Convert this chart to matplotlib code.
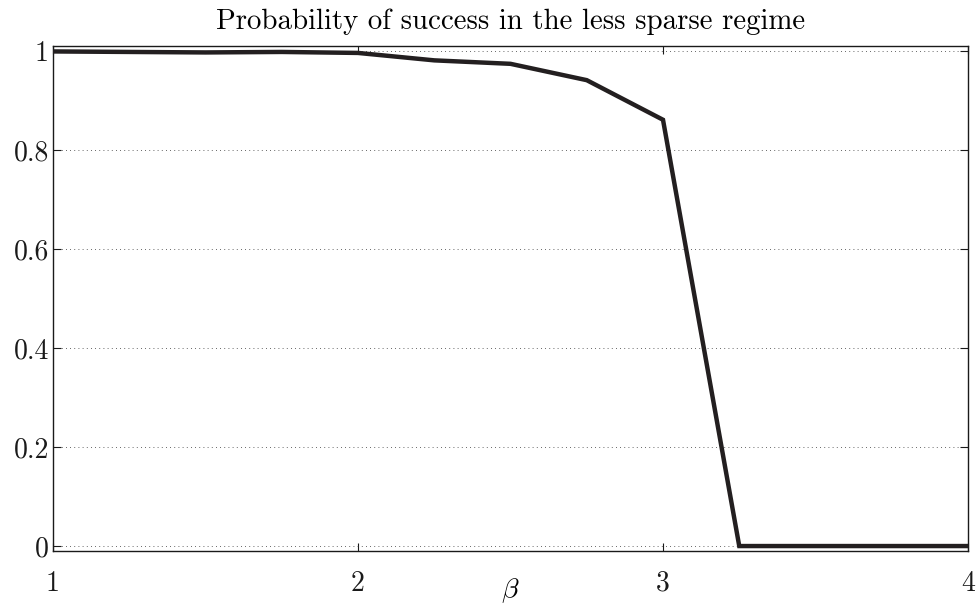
import matplotlib
matplotlib.use("Agg")
import matplotlib.pyplot as plt

beta = [1.0, 1.25, 1.5, 1.75, 2.0, 2.25, 2.5, 2.75, 3.0, 3.25, 3.5, 3.75, 4.0]
success = [0.999, 0.998, 0.997, 0.998, 0.996, 0.981, 0.974, 0.941, 0.861, 0.0, 0.0, 0.0, 0.0]
xticks = [1, 2, 3, 4]
yticks = [0, 0.2, 0.4, 0.6, 0.8, 1.0]
ytick_labels = ["0", "0.2", "0.4", "0.6", "0.8", "1"]
title = "Probability of success in the less sparse regime"

plt.rcParams["font.family"] = "cmr10"
plt.rcParams["mathtext.fontset"] = "cm"
plt.rcParams["axes.formatter.use_mathtext"] = True

fig = plt.figure(figsize=(9.8, 6.07), dpi=100)
ax = fig.add_axes([53/980, 1-551/607, (968-53)/980, (551-46)/607])

ax.plot(beta, success, color="#231f20", lw=3.2, solid_joinstyle="miter", zorder=3)

ax.set_xlim(1, 4)
ax.set_ylim(-0.01, 1.01)
ax.set_xticks(xticks)
ax.set_xticklabels([str(t) for t in xticks])
ax.set_yticks(yticks)
ax.set_yticklabels(ytick_labels)

ax.tick_params(axis="both", direction="in", length=6, width=0.8, top=True, right=True,
               labelsize=20, colors="#1a1a1a")
ax.tick_params(axis="x", pad=14)
ax.tick_params(axis="y", pad=3)

ax.yaxis.grid(True, linestyle=(0, (1, 4)), color="#333333", lw=0.6)
ax.xaxis.grid(False)
for s in ax.spines.values():
    s.set_linewidth(1.0)
    s.set_color("#1a1a1a")

ax.set_title(title, fontsize=20.8, pad=12)
ax.set_xlabel(r"$\beta$", fontsize=20)
ax.xaxis.set_label_coords(0.5, -0.05)

fig.savefig("out.png", dpi=100)
